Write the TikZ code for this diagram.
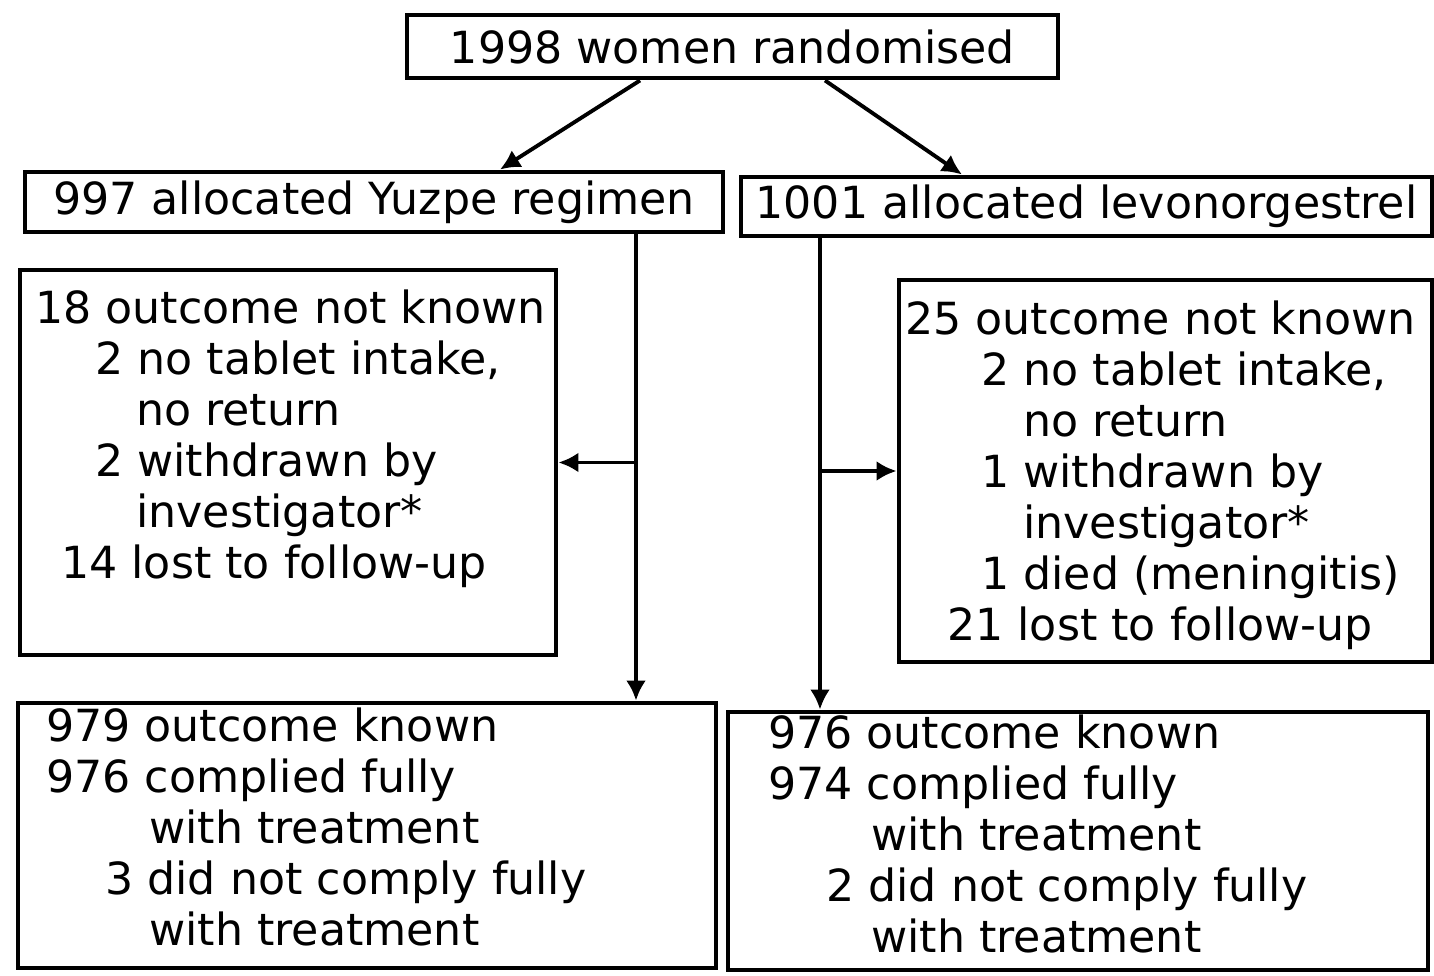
\documentclass[tikz,border=0pt]{standalone}
\usepackage{fontspec}
\newfontfamily\diagfont{DejaVu Sans}
\usetikzlibrary{arrows.meta,positioning}
\tikzset{
    %Define standard arrow tip
    >={Latex[length=0.2cm,width=0.2cm]},
    %Define style for boxes
    kasse/.style={
           rectangle,
           draw=black, line width=1.4pt,
           inner sep=0pt,
           font=\fontsize{12.6pt}{14.5pt}\selectfont\diagfont},
    % Define style for the text blocks in the boxes
    tekst/.style={
           anchor=north west,
           inner sep=0pt,
           align=left,
           font=\fontsize{12.6pt}{14.5pt}\selectfont\diagfont},
    % Define arrow style
    pil/.style={
           ->,
           line width=1.1pt}
}

\begin{document}
\begin{tikzpicture}
     \useasboundingbox (0,0) rectangle (14.34,-9.76);
     % boxes
     \node[kasse, minimum width=6.51cm, minimum height=0.63cm] (rand) at (7.325,-0.465) {1998 women randomised};
     \node[kasse, minimum width=6.98cm, minimum height=0.60cm] (yuzpe) at (3.74,-2.02) {997 allocated Yuzpe regimen};
     \node[kasse, minimum width=6.91cm, minimum height=0.59cm] (levo) at (10.865,-2.065) {1001 allocated levonorgestrel};
     \node[kasse, minimum width=5.36cm, minimum height=3.85cm] (lostyuzpe) at (2.88,-4.625) {};
     \node[kasse, minimum width=5.33cm, minimum height=3.82cm] (lostlevo) at (11.655,-4.71) {};
     \node[kasse, minimum width=6.98cm, minimum height=2.65cm] (knownyuzpe) at (3.67,-8.355) {};
     \node[kasse, minimum width=7.00cm, minimum height=2.58cm] (knownlevo) at (10.78,-8.41) {};
     % text in the boxes
     \node[tekst] (lostyuzpetxt) at ([shift={(0.17,-0.22)}]lostyuzpe.north west)
       {18 outcome not known\\
        \hspace*{0.60cm}2 no tablet intake,\\
        \hspace*{1.01cm}no return\\
        \hspace*{0.60cm}2 withdrawn by\\
        \hspace*{1.01cm}investigator*\\
        \hspace*{0.26cm}14 lost to follow-up};
     \node[tekst] (lostlevotxt) at ([shift={(0.08,-0.23)}]lostlevo.north west)
       {25 outcome not known\\
        \hspace*{0.76cm}2 no tablet intake,\\
        \hspace*{1.18cm}no return\\
        \hspace*{0.76cm}1 withdrawn by\\
        \hspace*{1.18cm}investigator*\\
        \hspace*{0.76cm}1 died (meningitis)\\
        \hspace*{0.42cm}21 lost to follow-up};
     \node[tekst] (knownyuzpetxt) at ([shift={(0.30,-0.07)}]knownyuzpe.north west)
       {979 outcome known\\
        976 complied fully\\
        \hspace*{1.03cm}with treatment\\
        \hspace*{0.59cm}3 did not comply fully\\
        \hspace*{1.03cm}with treatment};
     \node[tekst] (knownlevotxt) at ([shift={(0.42,-0.05)}]knownlevo.north west)
       {976 outcome known\\
        974 complied fully\\
        \hspace*{1.03cm}with treatment\\
        \hspace*{0.58cm}2 did not comply fully\\
        \hspace*{1.03cm}with treatment};
     % connectors
     \draw[pil] ([xshift=-0.925cm]rand.south) -- ([xshift=1.26cm]yuzpe.north);
     \draw[pil] ([xshift=0.925cm]rand.south) -- ([xshift=-1.245cm]levo.north);
     \coordinate (ytrunk) at ([xshift=2.62cm]yuzpe.south);
     \coordinate (ltrunk) at ([xshift=-2.665cm]levo.south);
     \draw[pil] (ytrunk) -- (ytrunk |- knownyuzpe.north);
     \draw[pil] (ytrunk |- lostyuzpe.east) -- (lostyuzpe.east);
     \draw[pil] (ltrunk) -- (ltrunk |- knownlevo.north);
     \draw[pil] (ltrunk |- lostlevo.west) -- (lostlevo.west);
\end{tikzpicture}
\end{document}
